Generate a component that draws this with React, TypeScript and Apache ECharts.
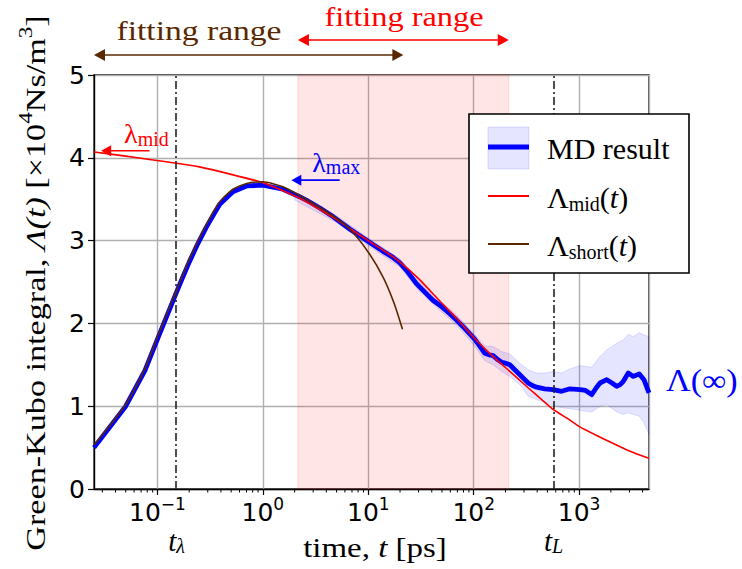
import React, { useEffect, useRef } from "react";
import * as echarts from "echarts";

// ---------- data ----------
const mdTime = [0.025, 0.05, 0.076, 0.1, 0.152, 0.174, 0.2, 0.243, 0.29, 0.35, 0.39, 0.52, 0.7, 1.0, 1.55, 2.23, 2.58, 3.5, 4.62, 6.66, 10, 13.8, 17, 19.9, 23, 28.6, 35.5, 41, 47.7, 59, 68.7, 79.3, 102, 115, 127, 140, 153, 170, 184, 200, 220, 245, 274, 300, 329, 360, 395, 470, 568, 682, 818, 1018, 1150, 1315, 1450, 1578, 1826, 2050, 2270, 2450, 2625, 2926, 3265, 3722, 4120, 4600];
const mdValue = [0.50, 1.00, 1.43, 1.81, 2.38, 2.56, 2.74, 2.97, 3.16, 3.34, 3.44, 3.59, 3.66, 3.67, 3.62, 3.53, 3.49, 3.39, 3.29, 3.14, 2.99, 2.87, 2.80, 2.73, 2.64, 2.48, 2.36, 2.28, 2.22, 2.12, 2.04, 1.96, 1.81, 1.72, 1.64, 1.62, 1.61, 1.56, 1.53, 1.52, 1.50, 1.44, 1.38, 1.33, 1.28, 1.25, 1.23, 1.21, 1.20, 1.18, 1.21, 1.20, 1.19, 1.14, 1.22, 1.28, 1.32, 1.28, 1.24, 1.26, 1.30, 1.40, 1.36, 1.39, 1.32, 1.16];

const bandTime = [2, 5, 10, 20, 30, 47.7, 68.7, 100, 127, 153, 184, 220, 274, 329, 395, 470, 568, 682, 818, 1018, 1315, 1578, 1826, 2270, 2625, 2926, 3265, 3722, 4120, 4600];
const bandUpper = [3.57, 3.30, 3.03, 2.78, 2.52, 2.27, 2.10, 1.88, 1.73, 1.72, 1.66, 1.63, 1.52, 1.44, 1.40, 1.40, 1.42, 1.40, 1.45, 1.49, 1.47, 1.60, 1.68, 1.76, 1.80, 1.87, 1.84, 1.89, 1.86, 1.84];
const bandLower = [3.49, 3.22, 2.94, 2.68, 2.40, 2.16, 1.98, 1.74, 1.55, 1.50, 1.42, 1.36, 1.26, 1.12, 1.08, 1.05, 1.01, 0.98, 0.97, 0.95, 0.93, 1.00, 1.02, 0.93, 0.90, 0.92, 0.90, 0.88, 0.80, 0.66];

const midTime = [0.025, 0.05, 0.084, 0.15, 0.25, 0.5, 1, 1.5, 2.58, 4.62, 7, 10, 15, 20, 30, 47.7, 70, 100, 147, 220, 330, 450, 568, 800, 1018, 1500, 2110, 3000, 4600];
const midValue = [4.07, 4.02, 3.98, 3.935, 3.89, 3.80, 3.70, 3.61, 3.47, 3.28, 3.13, 3.00, 2.855, 2.74, 2.54, 2.27, 2.05, 1.83, 1.62, 1.42, 1.22, 1.07, 0.96, 0.84, 0.75, 0.64, 0.55, 0.46, 0.37];

const shortTime = [0.025, 0.05, 0.076, 0.1, 0.152, 0.2, 0.29, 0.39, 0.52, 0.7, 1, 1.55, 2.58, 4.62, 6.66, 10, 13.8, 17.5, 21.1];
const shortValue = [0.53, 1.02, 1.45, 1.84, 2.40, 2.77, 3.19, 3.47, 3.62, 3.69, 3.71, 3.65, 3.50, 3.30, 3.14, 2.86, 2.56, 2.25, 1.93];

const fitRangeMid = [2.15, 215];
const fitRangeShort = [0.025, 21.5];
const tLambda = 0.152;
const tL = 571;
const xMin = 0.025;
const xMax = 4600;
const yMin = 0;
const yMax = 5;
const yInterval = 1;
const minorTicks = [0.03, 0.04, 0.05, 0.06, 0.07, 0.08, 0.09, 0.2, 0.3, 0.4, 0.5, 0.6, 0.7, 0.8, 0.9, 2, 3, 4, 5, 6, 7, 8, 9, 20, 30, 40, 50, 60, 70, 80, 90, 200, 300, 400, 500, 600, 700, 800, 900, 2000, 3000, 4000];
const lambdaMidArrow = { t1: 0.084, t2: 0.0292, v: 4.085 };
const lambdaMaxArrow = { t1: 5.35, t2: 1.86, v: 3.73 };

// ---------- styles ----------
const BLUE = "#0000ff";
const RED = "#ff0000";
const BROWN = "#5a2800";
const SERIF = "Liberation Serif";
const SANS = "DejaVu Sans";
const sf = (size: number, italic = false) => `${italic ? "italic " : ""}${size}px '${SERIF}'`;

const pairs = (xs: number[], ys: number[]) => xs.map((x, i) => [x, ys[i]]);

function arrowEls(x1: number, x2: number, y: number, color: string, both: boolean, head = 11, hw = 6, lw = 1.6) {
  const els: any[] = [];
  els.push({
    type: "line",
    shape: { x1: x1 + head * 0.7, y1: y, x2: both ? x2 - head * 0.7 : x2, y2: y },
    style: { stroke: color, lineWidth: lw },
    z: 100,
  });
  els.push({
    type: "polygon",
    shape: { points: [[x1, y], [x1 + head, y - hw], [x1 + head, y + hw]] },
    style: { fill: color },
    z: 100,
  });
  if (both) {
    els.push({
      type: "polygon",
      shape: { points: [[x2, y], [x2 - head, y - hw], [x2 - head, y + hw]] },
      style: { fill: color },
      z: 100,
    });
  }
  return els;
}

export default function App() {
  const ref = useRef<HTMLDivElement>(null);

  useEffect(() => {
    const chart = echarts.init(ref.current!, null, { renderer: "svg" });

    const supLabel = (value: number) => {
      const e = Math.round(Math.log10(value));
      const s = e < 0 ? "\u2212" + Math.abs(e) : String(e);
      return "{b|10}{s|" + s + "}";
    };

    const option: any = {
      animation: false,
      backgroundColor: "#fff",
      grid: {
        left: 94,
        top: 75,
        width: 555,
        height: 414,
        show: true,
        borderColor: "#000",
        borderWidth: 1.3,
        backgroundColor: "transparent",
      },
      xAxis: {
        type: "log",
        logBase: 10,
        min: xMin,
        max: xMax,
        axisLine: { show: true, lineStyle: { color: "#000", width: 1.3 } },
        axisTick: { show: true, inside: false, length: 6, lineStyle: { color: "#000", width: 1.2 } },
        splitLine: { show: true, lineStyle: { color: "#b0b0b0", width: 1.4 } },
        minorTick: { show: false },
        axisLabel: {
          margin: 6,
          showMinLabel: false,
          showMaxLabel: false,
          formatter: supLabel,
          rich: {
            b: { fontFamily: SANS, fontSize: 25, color: "#000", lineHeight: 30, verticalAlign: "bottom" },
            s: { fontFamily: SANS, fontSize: 17, color: "#000", lineHeight: 17, verticalAlign: "top" },
          },
        },
      },
      yAxis: {
        type: "value",
        min: yMin,
        max: yMax,
        interval: yInterval,
        axisLine: { show: true, lineStyle: { color: "#000", width: 1.3 } },
        axisTick: { show: true, inside: false, length: 6, lineStyle: { color: "#000", width: 1.2 } },
        splitLine: { show: true, lineStyle: { color: "#b0b0b0", width: 1.4 } },
        axisLabel: { margin: 9, fontFamily: SANS, fontSize: 25, color: "#000" },
      },
      series: [
        {
          type: "custom",
          name: "band",
          coordinateSystem: "cartesian2d",
          silent: true,
          z: 2,
          data: [[bandTime[0], bandLower[0]]],
          renderItem: (params: any, api: any) => {
            const pts: number[][] = [];
            for (let i = 0; i < bandTime.length; i++) pts.push(api.coord([bandTime[i], bandUpper[i]]));
            for (let i = bandTime.length - 1; i >= 0; i--) pts.push(api.coord([bandTime[i], bandLower[i]]));
            return {
              type: "polygon",
              shape: { points: pts },
              style: { fill: "rgba(0,0,255,0.1)", stroke: "rgba(0,0,255,0.12)", lineWidth: 1 },
            };
          },
        },
        {
          type: "line",
          name: "MD result",
          data: pairs(mdTime, mdValue),
          showSymbol: false,
          symbol: "none",
          silent: true,
          z: 3,
          lineStyle: { color: BLUE, width: 4.8, join: "round" },
        },
        {
          type: "line",
          name: "mid",
          data: pairs(midTime, midValue),
          showSymbol: false,
          symbol: "none",
          smooth: 0.2,
          silent: true,
          z: 4,
          lineStyle: { color: RED, width: 1.6 },
          markArea: {
            silent: true,
            itemStyle: { color: "rgba(255,0,0,0.1)", borderColor: "rgba(255,0,0,0.13)", borderWidth: 1 },
            data: [[{ xAxis: fitRangeMid[0] }, { xAxis: fitRangeMid[1] }]],
          },
        },
        {
          type: "line",
          name: "short",
          data: pairs(shortTime, shortValue),
          showSymbol: false,
          symbol: "none",
          smooth: 0.2,
          silent: true,
          z: 5,
          lineStyle: { color: BROWN, width: 1.6 },
          markLine: {
            silent: true,
            symbol: "none",
            label: { show: false },
            lineStyle: { color: "#222", width: 1.6, type: [8, 3, 2, 3] },
            data: [{ xAxis: tLambda }, { xAxis: tL }],
          },
        },
        {
          type: "custom",
          name: "minorTicks",
          coordinateSystem: "cartesian2d",
          silent: true,
          clip: false,
          z: 6,
          data: minorTicks.map((t) => [t, yMin]),
          renderItem: (params: any, api: any) => {
            const p = api.coord([api.value(0), yMin]);
            return {
              type: "line",
              shape: { x1: p[0], y1: p[1], x2: p[0], y2: p[1] + 3.5 },
              style: { stroke: "#000", lineWidth: 1 },
            };
          },
        },
      ],
    };

    chart.setOption(option);

    const px = (t: number, v: number) => chart.convertToPixel({ gridIndex: 0 }, [t, v]) as number[];

    const g: any[] = [];
    // fitting range arrows
    const bs0 = px(fitRangeShort[0], yMax)[0];
    const bs1 = px(fitRangeShort[1], yMax)[0];
    g.push(...arrowEls(bs0, bs1, 55, BROWN, true));
    const rm0 = px(fitRangeMid[0], yMax)[0];
    const rm1 = px(fitRangeMid[1], yMax)[0];
    g.push(...arrowEls(rm0, rm1, 40, RED, true));
    g.push({
      type: "text", x: 199, y: 30, z: 100, scaleX: 1.2,
      style: { text: "fitting range", fill: BROWN, font: sf(28), align: "center", verticalAlign: "middle" },
    });
    g.push({
      type: "text", x: 404, y: 16, z: 100, scaleX: 1.2,
      style: { text: "fitting range", fill: RED, font: sf(27), align: "center", verticalAlign: "middle" },
    });

    // lambda_mid annotation
    const lm1 = px(lambdaMidArrow.t1, lambdaMidArrow.v);
    const lm2 = px(lambdaMidArrow.t2, lambdaMidArrow.v);
    g.push(...arrowEls(lm2[0], lm1[0], lm1[1], RED, false, 10, 5.5, 1.6));
    g.push({
      type: "text", x: lm2[0] + 23, y: lm1[1] - 17, z: 100,
      style: {
        text: "{g|\u03bb}{s|mid}", align: "left", verticalAlign: "middle", fill: RED,
        rich: {
          g: { font: sf(28), fill: RED, lineHeight: 30, verticalAlign: "middle" },
          s: { font: sf(20), fill: RED, lineHeight: 20, verticalAlign: "bottom" },
        },
      },
    });

    // lambda_max annotation
    const lx1 = px(lambdaMaxArrow.t1, lambdaMaxArrow.v);
    const lx2 = px(lambdaMaxArrow.t2, lambdaMaxArrow.v);
    g.push(...arrowEls(lx2[0], lx1[0], lx1[1], BLUE, false, 10, 5.5, 1.6));
    g.push({
      type: "text", x: lx2[0] + 21, y: lx1[1] - 18, z: 100,
      style: {
        text: "{g|\u03bb}{s|max}", align: "left", verticalAlign: "middle", fill: BLUE,
        rich: {
          g: { font: sf(28), fill: BLUE, lineHeight: 30, verticalAlign: "middle" },
          s: { font: sf(20), fill: BLUE, lineHeight: 20, verticalAlign: "bottom" },
        },
      },
    });

    // Lambda(inf)
    g.push({
      type: "text", x: 666, y: 381, z: 100, scaleX: 1.1,
      style: { text: "\u039b(\u221e)", fill: BLUE, font: sf(31), align: "left", verticalAlign: "middle" },
    });

    // x annotations below axis
    const tlx = px(tLambda, yMin)[0];
    const tLx = px(tL, yMin)[0];
    const subRich = {
      i: { font: sf(29, true), fill: "#000", lineHeight: 30, verticalAlign: "middle" },
      s: { font: sf(20, true), fill: "#000", lineHeight: 20, verticalAlign: "bottom" },
    };
    g.push({
      type: "text", x: tlx, y: 541, z: 100,
      style: { text: "{i|t}{s|\u03bb}", align: "center", verticalAlign: "middle", rich: subRich },
    });
    g.push({
      type: "text", x: tLx, y: 541, z: 100,
      style: { text: "{i|t}{s|L}", align: "center", verticalAlign: "middle", rich: subRich },
    });
    g.push({
      type: "text", x: 375, y: 548, z: 100, scaleX: 1.22,
      style: {
        text: "{n|time, }{i|t}{n| [ps]}", align: "center", verticalAlign: "middle",
        rich: {
          n: { font: sf(27), fill: "#000", lineHeight: 30 },
          i: { font: sf(27, true), fill: "#000", lineHeight: 30 },
        },
      },
    });

    // y axis title
    g.push({
      type: "text", x: 33, y: 283, rotation: Math.PI / 2, z: 100, scaleX: 1.22,
      style: {
        text: "{n|Green-Kubo integral, }{i|\u039b(t)}{n| [\u00d710}{p|4}{n|Ns/m}{p|3}{n|]}",
        align: "center", verticalAlign: "middle",
        rich: {
          n: { font: sf(28), fill: "#000", lineHeight: 34, verticalAlign: "bottom" },
          i: { font: sf(28, true), fill: "#000", lineHeight: 34, verticalAlign: "bottom" },
          p: { font: sf(19), fill: "#000", lineHeight: 19, verticalAlign: "top" },
        },
      },
    });

    // legend
    const lgX = 469, lgY = 114, lgW = 220, lgH = 159;
    g.push({
      type: "rect", z: 110,
      shape: { x: lgX, y: lgY, width: lgW, height: lgH },
      style: { fill: "#fff", stroke: "#000", lineWidth: 1.6 },
    });
    g.push({
      type: "rect", z: 111,
      shape: { x: 488, y: 127, width: 41, height: 42 },
      style: { fill: "rgba(0,0,255,0.1)", stroke: "rgba(0,0,255,0.12)", lineWidth: 1 },
    });
    g.push({ type: "line", z: 112, shape: { x1: 488, y1: 147, x2: 529, y2: 147 }, style: { stroke: BLUE, lineWidth: 4.8 } });
    g.push({ type: "line", z: 112, shape: { x1: 488, y1: 196, x2: 529, y2: 196 }, style: { stroke: RED, lineWidth: 2 } });
    g.push({ type: "line", z: 112, shape: { x1: 488, y1: 244, x2: 529, y2: 244 }, style: { stroke: BROWN, lineWidth: 2 } });
    g.push({
      type: "text", x: 547, y: 148, z: 112,
      style: { text: "MD result", fill: "#000", font: sf(30), align: "left", verticalAlign: "middle" },
    });
    const legRich = {
      L: { font: sf(30), fill: "#000", lineHeight: 34, verticalAlign: "middle" },
      s: { font: sf(20), fill: "#000", lineHeight: 20, verticalAlign: "bottom" },
      i: { font: sf(30, true), fill: "#000", lineHeight: 34, verticalAlign: "middle" },
    };
    g.push({
      type: "text", x: 547, y: 197, z: 112,
      style: { text: "{L|\u039b}{s|mid}{L|(}{i|t}{L|)}", align: "left", verticalAlign: "middle", rich: legRich },
    });
    g.push({
      type: "text", x: 547, y: 245, z: 112,
      style: { text: "{L|\u039b}{s|short}{L|(}{i|t}{L|)}", align: "left", verticalAlign: "middle", rich: legRich },
    });

    chart.setOption({ graphic: { elements: g } });

    return () => chart.dispose();
  }, []);

  return (
    <div
      ref={ref}
      style={{ position: "fixed", left: 0, top: 0, width: 742, height: 569, background: "#fff" }}
    />
  );
}
